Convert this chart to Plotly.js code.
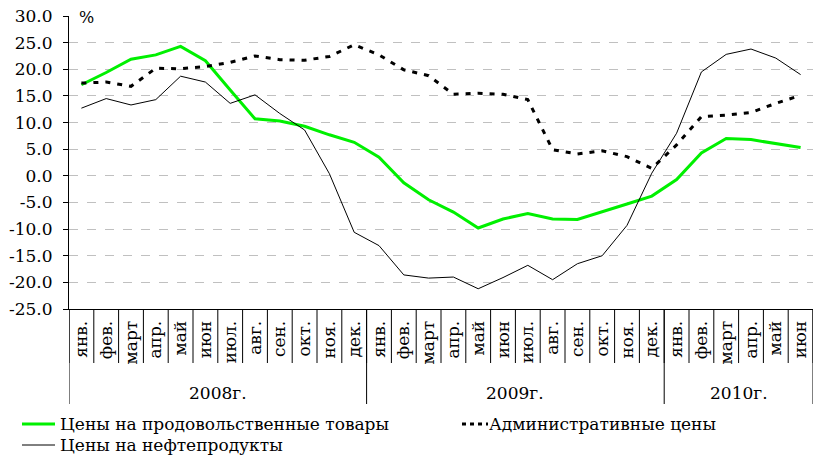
<!DOCTYPE html>
<html>
<head>
<meta charset="utf-8">
<script src="https://cdn.plot.ly/plotly-3.0.1.min.js"></script>
<style>html,body{margin:0;padding:0;background:#fff;}#chart{width:815px;height:457px;}</style>
</head>
<body>
<div id="chart"></div>
<script>
const months = ["янв.","фев.","март","апр.","май","июн","июл.","авг.","сен.","окт.","ноя.","дек.",
                "янв.","фев.","март","апр.","май","июн","июл.","авг.","сен.","окт.","ноя.","дек.",
                "янв.","фев.","март","апр.","май","июн"];
const years = ["2008г.","2009г.","2010г."];
const yearSpans = [12, 12, 6];
const foodPrices = [17.1,19.4,21.9,22.7,24.3,21.6,16.1,10.7,10.3,9.3,7.7,6.3,
                    3.5,-1.3,-4.5,-6.8,-9.8,-8.1,-7.1,-8.1,-8.2,-6.8,-5.3,-3.8,
                    -0.7,4.3,7.0,6.8,6.1,5.3];
const adminPrices = [17.4,17.6,16.8,20.2,20.1,20.5,21.3,22.5,21.8,21.7,22.4,24.6,
                     22.7,19.9,18.8,15.3,15.5,15.3,14.3,4.9,4.1,4.7,3.6,1.4,
                     5.8,11.1,11.4,11.9,13.6,15.1];
const oilPrices = [12.7,14.5,13.3,14.3,18.7,17.6,13.6,15.2,11.7,8.6,0.4,-10.6,
                   -13.1,-18.6,-19.2,-19.0,-21.2,-19.1,-16.8,-19.5,-16.5,-15.0,-9.3,0.5,
                   8.0,19.5,22.8,23.8,22.1,19.0];
const seriesNames = ["Цены на продовольственные товары","Административные цены","Цены на нефтепродукты"];
const yTicks = [-25,-20,-15,-10,-5,0,5,10,15,20,25,30];
const yTickLabels = ["-25.0","-20.0","-15.0","-10.0","-5.0","0.0","5.0","10.0","15.0","20.0","25.0","30.0"];

const idx = months.map((m,i)=>i);
const FONT = "DejaVu Serif";
const W = 815, H = 457, L = 69, R = 2, T = 16, B = 148;
const pw = W - L - R, ph = H - T - B;
const px2x = p => (p - L) / pw;
const py2y = p => (H - B - p) / ph;

const traces = [
  {x: idx, y: foodPrices, name: seriesNames[0], mode: "lines", line: {color: "#00f000", width: 3}},
  {x: idx, y: adminPrices, name: seriesNames[1], mode: "lines", line: {color: "#000", width: 3, dash: "5px,7px"}},
  {x: idx, y: oilPrices, name: seriesNames[2], mode: "lines", line: {color: "#000", width: 1}}
];

const shapes = [];
const annotations = [];
for (let k = 0; k <= months.length; k++) {
  shapes.push({type: "line", xref: "x", yref: "paper", x0: k - 0.5, x1: k - 0.5, y0: 0, y1: py2y(363),
               line: {color: "#000", width: 1}});
}
let start = 0;
const bounds = [ -0.5 ];
years.forEach((yr, j) => {
  const end = start + yearSpans[j];
  bounds.push(end - 0.5);
  annotations.push({xref: "x", yref: "paper", x: (start + end - 1) / 2, y: py2y(393),
                    text: yr, showarrow: false, xanchor: "center", yanchor: "middle",
                    font: {family: FONT, size: 17, color: "#000"}});
  start = end;
});
bounds.forEach(b => shapes.push({type: "line", xref: "x", yref: "paper", x0: b, x1: b, y0: 0, y1: py2y(404),
                                 line: {color: "#000", width: 1}}));
annotations.push({xref: "paper", yref: "paper", x: px2x(77), y: py2y(18), text: "%", showarrow: false,
                  xanchor: "left", yanchor: "middle", font: {family: FONT, size: 16, color: "#000"}});
const legendRows = [
  {x0: 22, x1: 55, y: 424, tx: 58, i: 0},
  {x0: 462, x1: 488, y: 424, tx: 487, i: 1},
  {x0: 22, x1: 55, y: 445, tx: 58, i: 2}
];
legendRows.forEach(r => {
  const tr = traces[r.i];
  shapes.push({type: "line", xref: "paper", yref: "paper", x0: px2x(r.x0), x1: px2x(r.x1), y0: py2y(r.y), y1: py2y(r.y),
               line: {color: tr.line.color, width: tr.line.width, dash: r.i === 1 ? "4px,4px" : "solid"}});
  annotations.push({xref: "paper", yref: "paper", x: px2x(r.tx), y: py2y(r.y), text: seriesNames[r.i],
                    showarrow: false, xanchor: "left", yanchor: "middle",
                    font: {family: FONT, size: 17, color: "#000"}});
});

const layout = {
  width: W, height: H,
  margin: {l: L, r: R, t: T, b: B, pad: 0},
  paper_bgcolor: "#fff", plot_bgcolor: "#fff",
  showlegend: false,
  font: {family: FONT, size: 17, color: "#000"},
  xaxis: {range: [-0.5, months.length - 0.5], tickmode: "array", tickvals: idx, ticktext: months,
          tickangle: -90, ticks: "", showgrid: false, zeroline: false, showline: true,
          linecolor: "#000", linewidth: 1, tickfont: {family: FONT, size: 17, color: "#000"},
          ticklabelstandoff: 4, fixedrange: true},
  yaxis: {range: [-25, 30], tickmode: "array", tickvals: yTicks, ticktext: yTickLabels,
          ticks: "outside", ticklen: 5, tickcolor: "#000", showline: true, linecolor: "#000", linewidth: 1,
          showgrid: true, gridcolor: "#c0c0c0", griddash: "dash", gridwidth: 1, zeroline: false,
          tickfont: {family: FONT, size: 17, color: "#000"}, ticklabelstandoff: 7, fixedrange: true},
  shapes: shapes,
  annotations: annotations
};
Plotly.newPlot("chart", traces, layout, {staticPlot: true});
</script>
</body>
</html>
